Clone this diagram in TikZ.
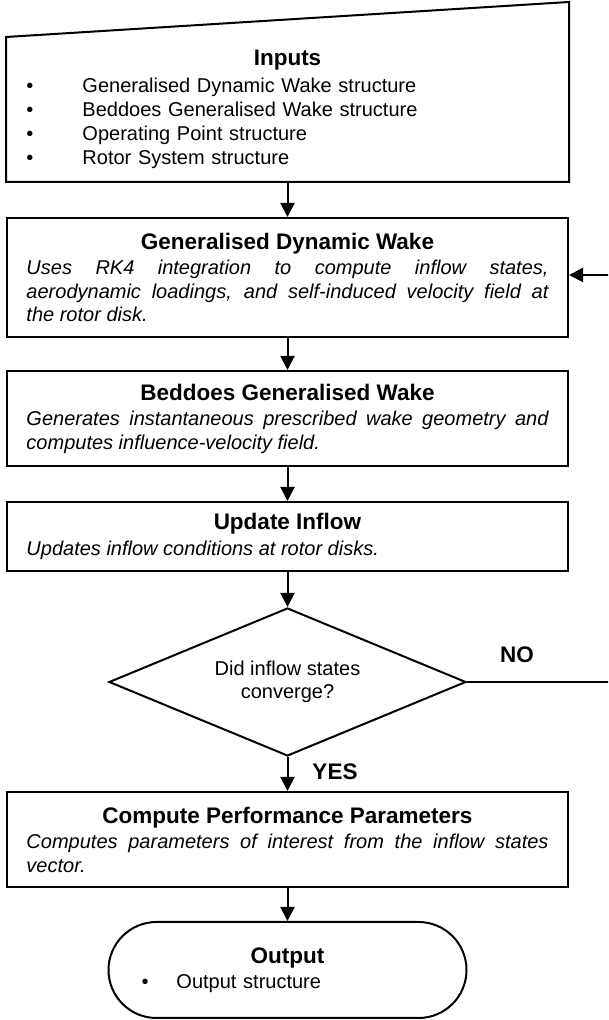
\documentclass[tikz,border=0pt]{standalone}
\usepackage{fontspec}
\setmainfont{Liberation Sans}
\usetikzlibrary{shapes.geometric,arrows.meta,calc}

\setlength{\parindent}{0pt}
\tolerance=10000
\newcommand{\boxtitle}[1]{{\fontsize{22.5pt}{26pt}\selectfont\bfseries #1}}
\newcommand{\bulletitem}[1]{\makebox[#1][l]{\textbullet}}

\begin{document}
\begin{tikzpicture}[x = 1pt, y = 1pt,
    font = \fontsize{20pt}{23.5pt}\selectfont,
    line width = 2pt,
    procbox/.style = {draw, minimum width = 561pt, inner sep = 0pt,
        text width = 522pt, align = justify},
    inbox/.style = {minimum width = 561pt, minimum height = 143pt,
        inner sep = 0pt, text width = 522pt, align = left},
    decbox/.style = {draw, diamond, aspect = 2.4, inner sep = 0pt,
        minimum width = 357pt, minimum height = 148pt, align = center},
    outbox/.style = {draw, rounded corners = 48pt, minimum width = 358pt,
        minimum height = 96pt, inner sep = 0pt, text width = 292pt, align = left},
    lbl/.style = {font = \fontsize{22.5pt}{26pt}\selectfont\bfseries},
    arr/.style = {-{Triangle[length = 14pt, width = 14pt]}}]

            \useasboundingbox (0,0) rectangle (608,1020);
            \clip (0,0) rectangle (608,1020);

            % manual input
            \node[inbox] (inputs) at (287.5,910.5) {{\centering\boxtitle{Inputs}\par}\vspace{3pt}
                \bulletitem{56pt}Generalised Dynamic Wake structure\\[0.5pt]
                \bulletitem{56pt}Beddoes Generalised Wake structure\\[0.5pt]
                \bulletitem{56pt}Operating Point structure\\[0.5pt]
                \bulletitem{56pt}Rotor System structure};
            \draw
            (inputs.south west) --
            (inputs.south east) --
            ($(inputs.north east) + (0,35)$) --
            (inputs.north west) -- cycle;

            % process boxes
            \node[procbox, minimum height = 119pt] (gdw) at (287.5,742.5) {{\centering\boxtitle{Generalised Dynamic Wake}\par}\vspace{2pt}
                \itshape Uses RK4 integration to compute inflow states,\linebreak
                aerodynamic loadings, and self-induced velocity field at\linebreak
                the rotor disk.};
            \node[procbox, minimum height = 95pt] (bgw) at (287.5,601.5) {{\centering\boxtitle{Beddoes Generalised Wake}\par}\vspace{2pt}
                \itshape Generates instantaneous prescribed wake geometry and\linebreak
                computes influence-velocity field.};
            \node[procbox, minimum height = 69pt] (upd) at (287.5,483.5) {{\centering\boxtitle{Update Inflow}\par}\vspace{2pt}
                \itshape Updates inflow conditions at rotor disks.};
            \node[decbox] (conv) at (287.5,338) {Did inflow states\\ converge?};
            \node[procbox, minimum height = 95pt] (perf) at (287.5,180.5) {{\centering\boxtitle{Compute Performance Parameters}\par}\vspace{2pt}
                \itshape Computes parameters of interest from the inflow states\linebreak
                vector.};
            \node[outbox] (out) at (287.5,50) {{\centering\boxtitle{Output}\par}\vspace{2pt}
                \bulletitem{35pt}Output structure};

            \node[lbl] (nolbl) at (517,365) {NO};
            \node[lbl] (yeslbl) at (335,248) {YES};
            \coordinate (loop) at (630,0);

            \draw [arr] (inputs.south) -- (gdw.north);
            \draw [arr] (gdw.south) -- (bgw.north);
            \draw [arr] (bgw.south) -- (upd.north);
            \draw [arr] (upd.south) -- (conv.north);
            \draw [arr] (conv.south) -- (perf.north);
            \draw [arr] (perf.south) -- (out.north);
            \draw [arr] (conv.east) -- (conv.east -| loop) |- ($(gdw.east) + (0,2.5)$);
        \end{tikzpicture}
\end{document}
